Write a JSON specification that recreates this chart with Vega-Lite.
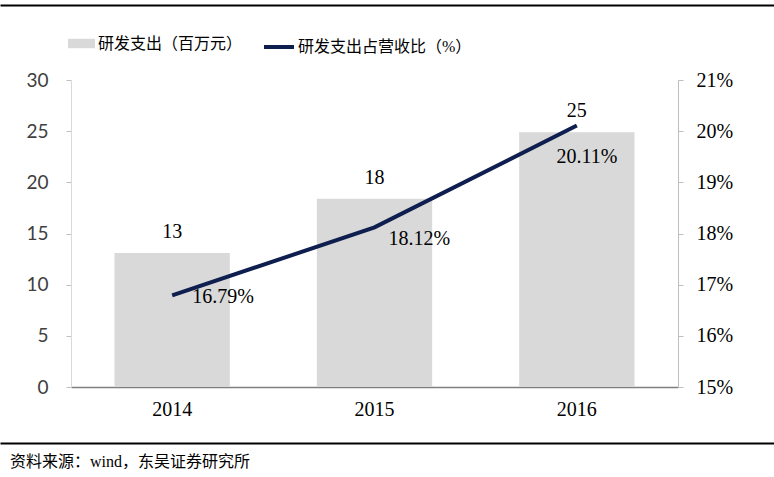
{
  "$schema": "https://vega.github.io/schema/vega-lite/v6.json",
  "width": 774,
  "height": 307,
  "autosize": "none",
  "padding": {"left": 0, "right": 0, "top": 80, "bottom": 90},
  "background": "#ffffff",
  "config": {"view": {"stroke": null}, "font": "Liberation Serif"},
  "data": {
    "values": [
      {"year": "2014", "rd": 13.1, "pct": 0.1679},
      {"year": "2015", "rd": 18.4, "pct": 0.1812},
      {"year": "2016", "rd": 24.9, "pct": 0.2011}
    ]
  },
  "title": {
    "text": "资料来源：wind，东吴证券研究所",
    "orient": "bottom",
    "anchor": "start",
    "frame": "group",
    "font": "Liberation Serif, Noto Sans CJK SC",
    "fontSize": 16,
    "fontWeight": "normal",
    "color": "#000000",
    "dx": 10,
    "offset": 11
  },
  "layer": [
    {
      "layer": [
        {
          "layer": [
            {
              "mark": {"type": "bar"},
              "encoding": {
                "x": {
                  "field": "year",
                  "type": "ordinal",
                  "scale": {"range": [71, 678], "paddingInner": 0.43, "paddingOuter": 0.215},
                  "axis": {
                    "title": null,
                    "domainColor": "#7f7f7f",
                    "domainWidth": 1.5,
                    "ticks": false,
                    "labelAngle": 0,
                    "labelFont": "Liberation Serif",
                    "labelFontSize": 20,
                    "labelColor": "#000000",
                    "labelPadding": 12
                  }
                },
                "y": {
                  "field": "rd",
                  "type": "quantitative",
                  "scale": {"domain": [0, 30]},
                  "axis": {
                    "orient": "left",
                    "offset": -71,
                    "values": [0, 5, 10, 15, 20, 25, 30],
                    "title": null,
                    "grid": false,
                    "domainColor": "#d9d9d9",
                    "tickColor": "#bfbfbf",
                    "tickSize": 5,
                    "labelFont": "Lato",
                    "labelFontSize": 19,
                    "labelColor": "#404040",
                    "labelPadding": 18
                  }
                },
                "fill": {
                  "datum": "研发支出（百万元）",
                  "type": "nominal",
                  "scale": {"range": ["#d9d9d9"]},
                  "legend": {
                    "orient": "none",
                    "legendX": 68,
                    "legendY": -50,
                    "title": null,
                    "symbolType": "M-1,-0.35H1V0.35H-1Z",
                    "symbolSize": 729,
                    "symbolStrokeWidth": 0,
                    "labelFont": "Liberation Serif, Noto Sans CJK SC",
                    "labelFontSize": 16,
                    "labelColor": "#000000",
                    "labelOffset": 3,
                    "labelLimit": 400
                  }
                }
              }
            },
            {
              "mark": {"type": "text", "baseline": "middle", "dy": -21, "fontSize": 20, "font": "Liberation Serif", "color": "#000000"},
              "encoding": {
                "x": {"field": "year", "type": "ordinal"},
                "y": {"field": "rd", "type": "quantitative"},
                "text": {"field": "rd", "type": "quantitative", "format": ".0f"}
              }
            }
          ]
        },
        {
          "layer": [
            {
              "mark": {"type": "line", "strokeWidth": 4},
              "encoding": {
                "x": {"field": "year", "type": "ordinal"},
                "y": {
                  "field": "pct",
                  "type": "quantitative",
                  "scale": {"domain": [0.15, 0.21]},
                  "axis": {
                    "orient": "right",
                    "offset": -96,
                    "values": [0.15, 0.16, 0.17, 0.18, 0.19, 0.2, 0.21],
                    "format": ".0%",
                    "title": null,
                    "grid": false,
                    "domainColor": "#bfbfbf",
                    "tickColor": "#bfbfbf",
                    "tickSize": 5,
                    "labelFont": "Liberation Serif",
                    "labelFontSize": 20,
                    "labelColor": "#000000",
                    "labelPadding": 13
                  }
                },
                "stroke": {
                  "datum": "研发支出占营收比（%）",
                  "type": "nominal",
                  "scale": {"range": ["#0e1f4f"]},
                  "legend": {
                    "orient": "none",
                    "legendX": 262,
                    "legendY": -50,
                    "title": null,
                    "symbolType": "stroke",
                    "symbolSize": 900,
                    "symbolStrokeWidth": 4,
                    "labelFont": "Liberation Serif, Noto Sans CJK SC",
                    "labelFontSize": 16,
                    "labelColor": "#000000",
                    "labelOffset": 2,
                    "labelLimit": 400
                  }
                }
              }
            },
            {
              "transform": [{"filter": "datum.year == '2014'"}],
              "mark": {"type": "text", "align": "left", "baseline": "middle", "dx": 20, "dy": 2, "fontSize": 20, "font": "Liberation Serif", "color": "#000000"},
              "encoding": {
                "x": {"field": "year", "type": "ordinal"},
                "y": {"field": "pct", "type": "quantitative"},
                "text": {"field": "pct", "type": "quantitative", "format": ".2%"}
              }
            },
            {
              "transform": [{"filter": "datum.year == '2015'"}],
              "mark": {"type": "text", "align": "left", "baseline": "middle", "dx": 14, "dy": 12, "fontSize": 20, "font": "Liberation Serif", "color": "#000000"},
              "encoding": {
                "x": {"field": "year", "type": "ordinal"},
                "y": {"field": "pct", "type": "quantitative"},
                "text": {"field": "pct", "type": "quantitative", "format": ".2%"}
              }
            },
            {
              "transform": [{"filter": "datum.year == '2016'"}],
              "mark": {"type": "text", "align": "center", "baseline": "middle", "dx": 10, "dy": 31, "fontSize": 20, "font": "Liberation Serif", "color": "#000000"},
              "encoding": {
                "x": {"field": "year", "type": "ordinal"},
                "y": {"field": "pct", "type": "quantitative"},
                "text": {"field": "pct", "type": "quantitative", "format": ".2%"}
              }
            }
          ]
        }
      ],
      "resolve": {"scale": {"y": "independent"}, "axis": {"y": "independent"}}
    },
    {
      "mark": {"type": "rule", "opacity": 0},
      "encoding": {
        "x": {
          "datum": 0,
          "type": "quantitative",
          "scale": {"domain": [0, 1]},
          "axis": {"orient": "top", "offset": 75, "title": null, "labels": false, "ticks": false, "grid": false, "domainColor": "#000000", "domainWidth": 2}
        }
      }
    },
    {
      "mark": {"type": "rule", "opacity": 0},
      "encoding": {
        "x": {
          "datum": 0,
          "type": "quantitative",
          "scale": {"domain": [0, 1]},
          "axis": {"orient": "bottom", "offset": 56, "title": null, "labels": false, "ticks": false, "grid": false, "domainColor": "#000000", "domainWidth": 2}
        }
      }
    }
  ],
  "resolve": {"scale": {"x": "independent", "y": "independent"}, "axis": {"x": "independent", "y": "independent"}}
}
